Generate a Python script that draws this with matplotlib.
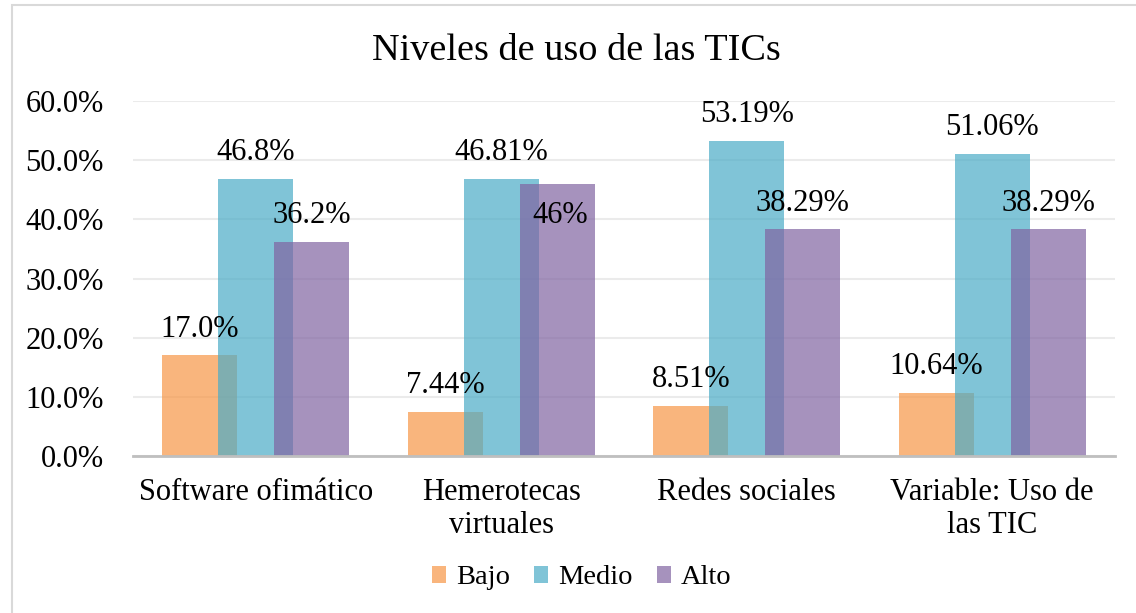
import numpy as np
import matplotlib
matplotlib.use("Agg")
import matplotlib.pyplot as plt
from matplotlib.patches import Rectangle

plt.rcParams['font.family'] = ['Liberation Serif', 'DejaVu Serif']

categorias = ["Software ofimático", "Hemerotecas\nvirtuales", "Redes sociales", "Variable: Uso de\nlas TIC"]
bajo = [17.0, 7.44, 8.51, 10.64]
medio = [46.8, 46.81, 53.19, 51.06]
alto = [36.2, 46.0, 38.29, 38.29]
etq_bajo = ["17.0%", "7.44%", "8.51%", "10.64%"]
etq_medio = ["46.8%", "46.81%", "53.19%", "51.06%"]
etq_alto = ["36.2%", "46%", "38.29%", "38.29%"]

fig = plt.figure(figsize=(11.36, 6.13), dpi=100)
ax = fig.add_axes([0.117, 0.2561, 0.8645, 0.5791])

# marco exterior (solo se ve a la izquierda y arriba)
fig.patches.append(Rectangle((12 / 1136, -0.1), 1.2, 1 - 5 / 613 + 0.1, transform=fig.transFigure,
                             fill=False, edgecolor="#D9D9D9", linewidth=1.5))

x = np.arange(len(categorias))
w = 0.305
off = 0.228
series = [
    (bajo, etq_bajo, "#F79646", "Bajo", -off),
    (medio, etq_medio, "#4BACC6", "Medio", 0),
    (alto, etq_alto, "#8064A2", "Alto", off),
]
for vals, etqs, color, nombre, d in series:
    ax.bar(x + d, np.array(vals) / 100, width=w, color=color, alpha=0.7, label=nombre, zorder=2)
    for xi, v, t in zip(x, vals, etqs):
        dy = 19
        dx = 0
        if nombre == "Alto" and t == "46%":
            dy, dx = -23, 2  # Excel lo dejó dentro de la barra
        ax.annotate(t, (xi + d, v / 100), xytext=(dx, dy), textcoords="offset points",
                    ha="center", va="center", fontsize=22, zorder=3)

ax.set_xlim(-0.5, 3.5)
ax.set_ylim(0, 0.6)
ax.set_yticks(np.arange(0, 0.61, 0.1))
ax.set_yticklabels([f"{v * 100:.1f}%" for v in np.arange(0, 0.61, 0.1)], fontsize=22)
ax.set_xticks(x)
ax.set_xticklabels(categorias, fontsize=22, linespacing=1.15)
ax.tick_params(axis="both", length=0)
ax.tick_params(axis="x", pad=16)
ax.tick_params(axis="y", pad=21)
ax.grid(axis="y", color="#EBEBEB", linewidth=1.5, zorder=0)
for s in ["top", "right", "left"]:
    ax.spines[s].set_visible(False)
ax.spines["bottom"].set_color("#BFBFBF")
ax.spines["bottom"].set_linewidth(2)
ax.spines["bottom"].set_zorder(4)

fig.text(0.5075, 0.917, "Niveles de uso de las TICs", ha="center", va="center", fontsize=27.5)

ax.legend(loc="center", bbox_to_anchor=(0.512, 1 - 578 / 613), bbox_transform=fig.transFigure,
          ncol=3, frameon=False, fontsize=20.5, handlelength=0.5, handleheight=0.5,
          handletextpad=0.35, columnspacing=0.85)

fig.savefig("out.png", dpi=100)
